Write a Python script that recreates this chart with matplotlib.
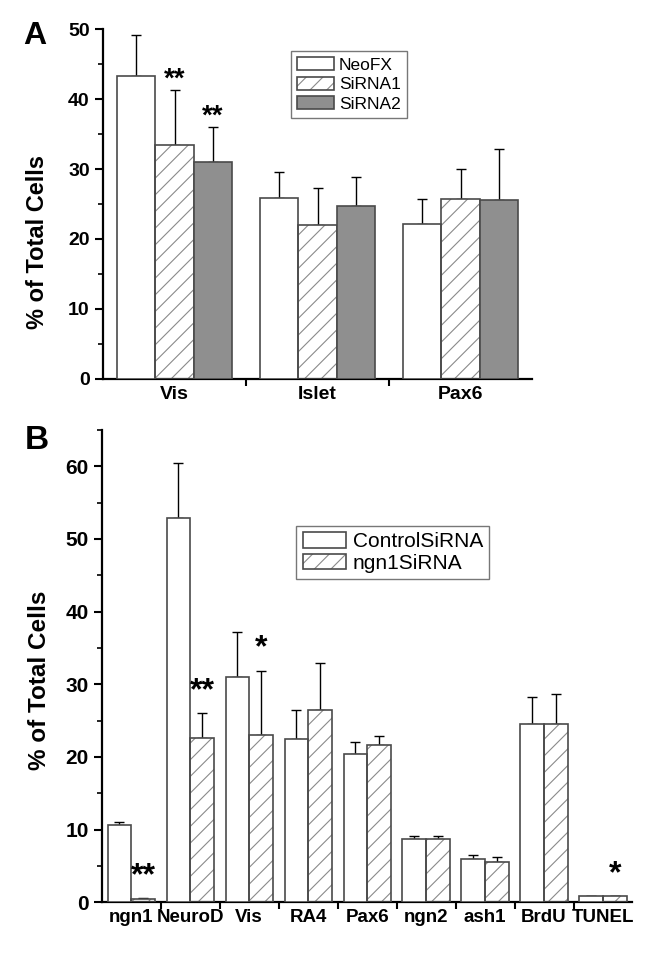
import numpy as np
import matplotlib
matplotlib.use("Agg")
import matplotlib.pyplot as plt
from matplotlib.patches import Patch
from matplotlib.ticker import MultipleLocator

plt.rcParams["font.family"] = ["Liberation Sans", "DejaVu Sans"]
plt.rcParams["hatch.linewidth"] = 0.8

# panel A data
cats_a = ["Vis", "Islet", "Pax6"]
series_a = ["NeoFX", "SiRNA1", "SiRNA2"]
neofx = [43.3, 25.85, 22.2]
neofx_sd = [5.9, 3.75, 3.5]
sirna1 = [33.4, 22.0, 25.7]
sirna1_sd = [7.9, 5.3, 4.3]
sirna2 = [31.0, 24.7, 25.6]
sirna2_sd = [5.0, 4.2, 7.3]
stars_a = [(1, 0, "**"), (2, 0, "**")]

# panel B data
cats_b = ["ngn1", "NeuroD", "Vis", "RA4", "Pax6", "ngn2", "ash1", "BrdU", "TUNEL"]
series_b = ["ControlSiRNA", "ngn1SiRNA"]
control = [10.6, 52.9, 31.0, 22.5, 20.4, 8.7, 5.9, 24.5, 0.85]
control_sd = [0.5, 7.6, 6.2, 3.9, 1.7, 0.4, 0.6, 3.8, 0.05]
ngn1si = [0.4, 22.6, 23.0, 26.5, 21.7, 8.75, 5.6, 24.5, 0.85]
ngn1si_sd = [0.15, 3.4, 8.9, 6.5, 1.2, 0.35, 0.6, 4.2, 0.05]
stars_b = [(1, 0, "**"), (1, 1, "**"), (1, 2, "*"), (1, 8, "*")]

EDGE = "#4a4a4a"
HATCH = "#8a8a8a"
styles = {
    "white": dict(fc="white", hatch=None),
    "hatch": dict(fc="white", hatch="//"),
    "gray": dict(fc="#8f8f8f", hatch=None),
}

W, H = 647, 955
fig = plt.figure(figsize=(W / 100, H / 100), dpi=100)


def px_axes(l, t, r, b):
    return fig.add_axes([l / W, 1 - b / H, (r - l) / W, (b - t) / H])


def draw_bars(ax, vals, sds, kinds, width):
    n = len(vals)
    x = np.arange(len(vals[0]))
    handles = []
    for i, (v, sd, kind) in enumerate(zip(vals, sds, kinds)):
        pos = x + (i - (n - 1) / 2) * width
        st = styles[kind]
        if st["hatch"]:
            ax.bar(pos, v, width, color="white", edgecolor=HATCH,
                   hatch=st["hatch"], linewidth=0, zorder=2)
            ax.bar(pos, v, width, fill=False, edgecolor=EDGE, linewidth=1.2, zorder=3)
            h = (Patch(fc="white", ec=HATCH, hatch=st["hatch"], lw=0),
                 Patch(fill=False, ec=EDGE, lw=1.2))
        else:
            ax.bar(pos, v, width, color=st["fc"], edgecolor=EDGE, linewidth=1.2, zorder=3)
            h = Patch(fc=st["fc"], ec=EDGE, lw=1.2)
        ax.errorbar(pos, v, yerr=[np.zeros(len(v)), sd], fmt="none", ecolor="black",
                    elinewidth=1, capsize=3.5, capthick=1, zorder=1)
        handles.append(h)
    return handles


def style_axes(ax, cats, ymax, fs_tick, fs_x):
    ax.spines["top"].set_visible(False)
    ax.spines["right"].set_visible(False)
    for s in ("left", "bottom"):
        ax.spines[s].set_linewidth(1.6)
    ax.set_xlim(-0.5, len(cats) - 0.5)
    ax.set_ylim(0, ymax)
    ax.set_xticks(np.arange(len(cats)))
    ax.set_xticklabels(cats, fontweight="bold", fontsize=fs_x)
    ax.set_xticks(np.arange(len(cats) - 1) + 0.5, minor=True)
    ax.tick_params(axis="x", which="major", length=0, pad=5)
    ax.tick_params(axis="x", which="minor", length=5, width=1.5, direction="out")
    ax.yaxis.set_major_locator(MultipleLocator(10))
    ax.yaxis.set_minor_locator(MultipleLocator(5))
    ax.tick_params(axis="y", which="major", length=6, width=1.5, labelsize=fs_tick)
    ax.tick_params(axis="y", which="minor", length=3.5, width=1.2)
    for lab in ax.get_yticklabels():
        lab.set_fontweight("bold")


# ---- panel A
axA = px_axes(103, 29.3, 532, 378.7)
valsA = [neofx, sirna1, sirna2]
sdsA = [neofx_sd, sirna1_sd, sirna2_sd]
hA = draw_bars(axA, valsA, sdsA, ["white", "hatch", "gray"], 0.27)
style_axes(axA, cats_a, 50, 14, 14)
for s, c, txt in stars_a:
    axA.text(c + (s - 1) * 0.27, valsA[s][c] + sdsA[s][c] + 1.5, txt,
             ha="center", va="center", fontsize=20, fontweight="bold")
axA.legend(hA, series_a, loc="upper left", bbox_to_anchor=(291 / W, 1 - 51 / H),
           bbox_transform=fig.transFigure, fontsize=12.5, frameon=True, fancybox=False,
           edgecolor="#555555", handlelength=2.1, handleheight=0.8, labelspacing=0.22,
           handletextpad=0.3, borderpad=0.35, borderaxespad=0)
fig.text(38 / W, 1 - 242 / H, "% of Total Cells", rotation=90, ha="center", va="center",
         fontsize=17, fontweight="bold")
fig.text(23 / W, 1 - 21 / H, "A", ha="left", va="top", fontsize=23, fontweight="bold")

# ---- panel B
axB = px_axes(101.7, 430, 632.5, 902.3)
valsB = [control, ngn1si]
sdsB = [control_sd, ngn1si_sd]
hB = draw_bars(axB, valsB, sdsB, ["white", "hatch"], 0.4)
style_axes(axB, cats_b, 65, 15, 13.5)
for s, c, txt in stars_b:
    axB.text(c + (s - 0.5) * 0.4, valsB[s][c] + sdsB[s][c] + 3.0, txt,
             ha="center", va="center", fontsize=23, fontweight="bold")
axB.legend(hB, series_b, loc="upper left", bbox_to_anchor=(296.3 / W, 1 - 526 / H),
           bbox_transform=fig.transFigure, fontsize=15, frameon=True, fancybox=False,
           edgecolor="#555555", handlelength=2.1, handleheight=0.8, labelspacing=0.1,
           handletextpad=0.3, borderpad=0.3, borderaxespad=0)
fig.text(40 / W, 1 - 680 / H, "% of Total Cells", rotation=90, ha="center", va="center",
         fontsize=17.5, fontweight="bold")
fig.text(25 / W, 1 - 425 / H, "B", ha="left", va="top", fontsize=24, fontweight="bold")

fig.savefig("out.png", dpi=100)
